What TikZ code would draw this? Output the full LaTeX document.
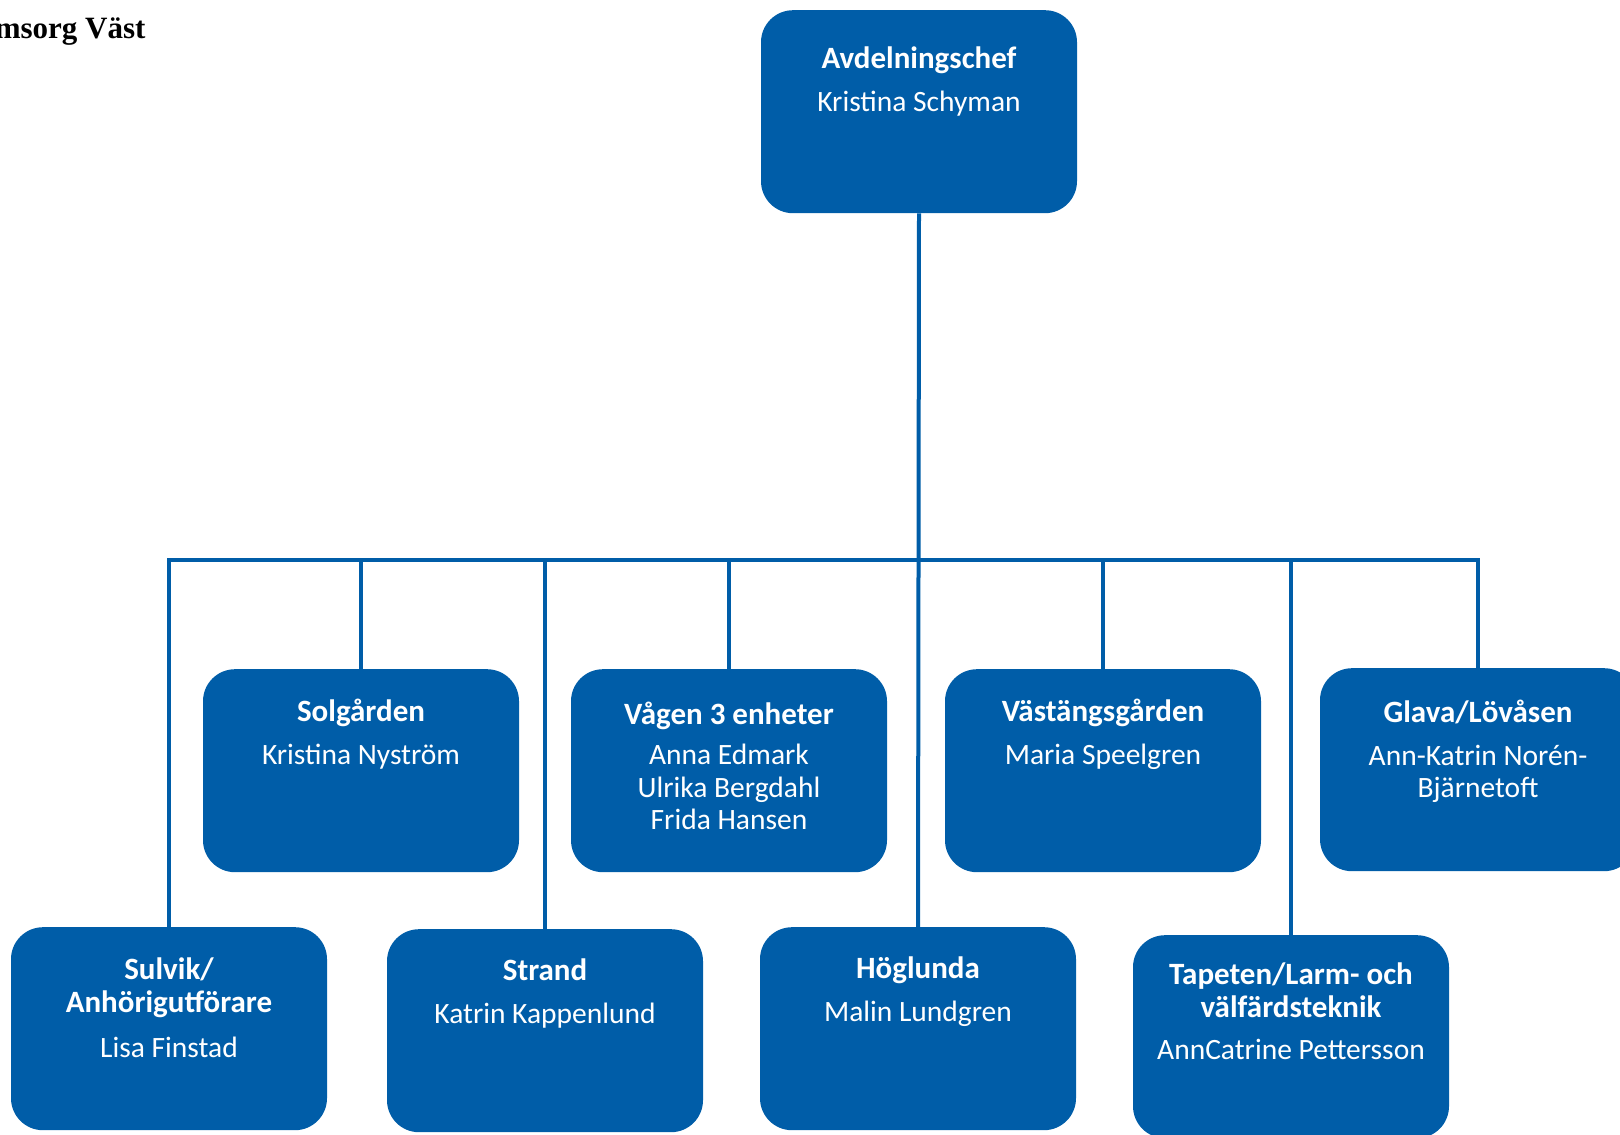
\documentclass[tikz,border=0pt]{standalone}
\usepackage{fontspec}
\setmainfont{Carlito}
\newfontfamily\headfont{Liberation Serif}
\usetikzlibrary{positioning}

\definecolor{orgblue}{RGB}{0,93,168}

\newcommand\unithead[1]{{\fontsize{31}{33}\selectfont\bfseries #1}}

\tikzset{
    unit/.style={rectangle, rounded corners=32pt, fill=orgblue,
        minimum width=316pt, minimum height=203pt, inner sep=0pt, anchor=north},
    unittext/.style={anchor=north, align=center, text=white, inner sep=0pt,
        yshift=-30pt, font=\fontsize{29.5}{32.5}\selectfont},
    link/.style={draw=orgblue, line width=4pt}
}

\begin{document}
\begin{tikzpicture}[x=1pt, y=-1pt]

        \useasboundingbox (0,0) rectangle (1620,1135);

        \node[anchor=east, font=\headfont\bfseries\fontsize{31}{36}\selectfont] (title) at (149,32) {msorg Väst};

        % chef
        \node[unit] (chef) at (919,10) {};
        \node[unittext, yshift=-7pt] (chef-t) at (chef.north) {\unithead{Avdelningschef}\\[10pt]Kristina Schyman};

        % upper row
        \node[unit] (sol) at (361,669) {};
        \node[unittext] (sol-t) at (sol.north) {\unithead{Solgården}\\[10pt]Kristina Nyström};

        \node[unit] (vag) at (729,669) {};
        \node[unittext, yshift=-2.5pt] (vag-t) at (vag.north) {\unithead{Vågen 3 enheter}\\[8pt]Anna Edmark\\Ulrika Bergdahl\\Frida Hansen};

        \node[unit] (vas) at (1103,669) {};
        \node[unittext] (vas-t) at (vas.north) {\unithead{Västängsgården}\\[10pt]Maria Speelgren};

        \node[unit] (gla) at (1478,668) {};
        \node[unittext, yshift=-2pt] (gla-t) at (gla.north) {\unithead{Glava/Lövåsen}\\[10pt]Ann-Katrin Norén-\\Bjärnetoft};

        % lower row
        \node[unit] (sul) at (169,927) {};
        \node[unittext, yshift=-1pt] (sul-t) at (sul.north) {\unithead{Sulvik/}\\\unithead{Anhörigutförare}\\[13pt]Lisa Finstad};

        \node[unit] (str) at (545,929) {};
        \node[unittext] (str-t) at (str.north) {\unithead{Strand}\\[10pt]Katrin Kappenlund};

        \node[unit] (hog) at (918,927) {};
        \node[unittext] (hog-t) at (hog.north) {\unithead{Höglunda}\\[10pt]Malin Lundgren};

        \node[unit] (tap) at (1291,935) {};
        \node[unittext, yshift=2pt] (tap-t) at (tap.north) {\unithead{Tapeten/Larm- och}\\\unithead{välfärdsteknik}\\[10pt]AnnCatrine Pettersson};

        % #######################################

        \coordinate (bar) at (0,560);

        \draw[link] (chef.south) -- (hog.north);
        \draw[link] (sul.north) -- (sul.north |- bar) -- (gla.north |- bar) -- (gla.north);

        \foreach \u in {sol,vag,vas,str,tap}
            \draw[link] (\u.north |- bar) -- (\u.north);

    \end{tikzpicture}
\end{document}
